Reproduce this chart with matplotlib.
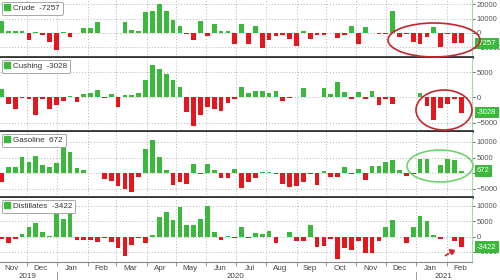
import matplotlib
matplotlib.use('Agg')
import matplotlib.pyplot as plt
import matplotlib.dates as mdates
import matplotlib.patches as mpatches
import matplotlib.transforms as mtrans
import pandas as pd

plt.rcParams['font.family'] = ['Liberation Sans', 'DejaVu Sans']

dates = pd.date_range('2019-11-05', periods=68, freq='7D')

crude = [8100, 1600, 1200, 1200, -5100, 500, -1400, -6300, -12100, 700,
         -2800, 300, 3300, 3300, 7700, 300, 300, 300, 7900, 1900,
         1400, 14400, 15600, 20200, 15100, 9300, 4700, -600, -5100, 8400,
         -1900, 6000, 1200, 1200, -7400, 6000, -7400, 4700, -10500, -4700,
         -1900, -1500, -4200, -9400, 1500, -4200, -1500, -1500, 300, -3500,
         -1500, 4500, -7700, 4200, 300, -500, -500, 15600, -2800, -500,
         -6300, -7700, -3000, 4200, -10000, -500, -7000, -7257]
cushing = [1650, -1300, -2400, -100, -400, -3500, -300, -2400, -1500, -800,
           200, -1000, 650, 850, 1500, -200, 700, -2000, 500, 500,
           800, 3400, 6300, 5600, 4700, 3500, 2000, -3000, -5650, -3400,
           -1850, -2300, -2650, -1100, -300, 2100, 850, 1300, 1300, 800,
           1300, -650, -150, 0, 1900, 50, 0, 1900, 650, 3000,
           1000, -350, 1000, -400, 1200, -1600, -350, -1300, 100, 50,
           50, 800, -1800, -4550, -2150, -1350, -400, -3028]
gasoline = [-2800, 1800, 1800, 5300, 3400, 5500, 2700, 2000, 3300, 9200,
            6800, 1700, 1100, 0, -100, -1800, -2500, -4200, -5200, -6100,
            -1300, 7600, 10600, 5100, 1100, -3700, -3000, -3400, 2900, -400,
            2900, 900, -1500, -1700, 1200, -4700, -3000, -1700, 400, 400,
            -400, -3400, -4500, -4200, -2800, -200, -3700, 650, -1400, -1400,
            2000, -300, 1400, -2300, 2400, 2400, 3700, 4200, 900, -900,
            -400, 4500, 4500, 100, 2600, 4500, 4200, 672]
distillates = [-900, -2200, -800, 900, 3300, 4300, 1600, 100, 8200, 5700,
               8500, -1000, -1100, -1100, -1600, -550, -1800, -3800, -6300, -2700,
               -350, -2000, 550, 6400, 8000, 5300, 9600, 3700, 3900, 5700,
               10000, 1600, -1100, 200, -400, 3000, -500, 1100, 800, 1900,
               -2000, 0, 1400, -1400, -1400, 3700, -3300, -3000, -900, -7200,
               -3700, -4200, -1400, -5200, -5200, -1300, 3300, 5500, 0, -2000,
               3100, 6700, 5200, 500, -700, 0, -1400, -3422]

names = ["Crude", "Cushing", "Gasoline", "Distillates"]
series = [crude, cushing, gasoline, distillates]
yticks = [[-10000, 0, 10000, 20000], [-5000, 0, 5000],
          [-5000, 0, 5000, 10000], [-5000, 0, 5000, 10000]]
ylims = [(-16800, 23000), (-6660, 7770), (-7700, 13200), (-8270, 12600)]
years = [("2019", "2019-12-02"), ("2020", "2020-07-01"), ("2021", "2021-01-29")]

W, H = 500, 280
GREEN = '#3cb83c'
RED = '#e5161c'
panels_px = [(0, 57), (58, 131), (132, 197), (198, 262)]
right_px = 472
xl = (pd.Timestamp('2019-11-03 12:00'), pd.Timestamp('2021-02-27'))

fig = plt.figure(figsize=(5, 2.8), dpi=100)
axes = []
for i, (name, vals) in enumerate(zip(names, series)):
    top, bot = panels_px[i]
    ax = fig.add_axes([0, 1 - bot / H, right_px / W, (bot - top) / H])
    axes.append(ax)
    colors = [GREEN if v >= 0 else RED for v in vals]
    ax.bar(dates, vals, width=4.8, color=colors, zorder=2)
    ax.set_xlim(xl)
    ax.set_ylim(ylims[i])
    ax.yaxis.tick_right()
    ax.set_yticks(yticks[i])
    ax.tick_params(axis='y', labelsize=5.5, length=2.5, colors='#555', pad=1,
                   width=0.6)
    ax.grid(axis='y', linestyle=(0, (1, 2)), color='#b5b5b5', lw=0.7, zorder=0)
    ax.xaxis.set_major_locator(mdates.MonthLocator())
    ax.grid(axis='x', which='major', linestyle=(0, (1, 2)), color='#b5b5b5',
            lw=0.7, zorder=0)
    for s in ['left', 'top']:
        ax.spines[s].set_visible(False)
    ax.spines['right'].set_color('#a6d9a6')
    ax.spines['right'].set_linewidth(0.8)
    if i < 3:
        ax.spines['bottom'].set_color('#333333')
        ax.spines['bottom'].set_linewidth(2)
        ax.tick_params(axis='x', which='both', length=0, labelbottom=False)
    else:
        ax.spines['bottom'].set_color('#888888')
        ax.spines['bottom'].set_linewidth(0.8)
        ax.xaxis.set_minor_locator(mdates.MonthLocator(bymonthday=15))
        ax.xaxis.set_minor_formatter(mdates.DateFormatter('%b'))
        ax.xaxis.set_major_formatter(plt.NullFormatter())
        ax.tick_params(axis='x', which='major', length=3, color='#888', width=0.6)
        ax.tick_params(axis='x', which='minor', length=0, labelsize=5.8,
                       colors='#444', pad=2.5)
        trans = mtrans.blended_transform_factory(ax.transData, ax.transAxes)
        for lab, d in years:
            ax.text(pd.Timestamp(d), -0.225, lab, transform=trans, ha='center',
                    va='center', fontsize=5.8, color='#444')
        for d in ["2020-01-01", "2021-01-01"]:
            ax.plot([pd.Timestamp(d)] * 2, [-0.16, -0.29], transform=trans,
                    color='#888', lw=0.6, clip_on=False)
    last = vals[-1]
    leg = ax.legend(handles=[mpatches.Patch(color=GREEN, label=f"{name}  {last}")],
                    loc='upper left', fontsize=5.8, handlelength=0.7,
                    handleheight=0.7, handletextpad=0.4, borderpad=0.35,
                    borderaxespad=0.2, frameon=True, fancybox=True,
                    edgecolor='#999999', framealpha=1)
    leg.get_frame().set_linewidth(0.6)
    for t in leg.get_texts():
        t.set_color('#333')
    ax.annotate(f"{last}", xy=(1, last), xycoords=('axes fraction', 'data'),
                xytext=(5, 0), textcoords='offset pixels', va='center', ha='left',
                fontsize=5.5, color='white',
                bbox=dict(boxstyle='square,pad=0.3', fc=GREEN, ec='none'),
                annotation_clip=False, zorder=6)


def fx(x):
    return x / W


def fy(y):
    return 1 - y / H


# annotations
fig.add_artist(mpatches.Ellipse((fx(434), fy(40)), 92 / W, 34 / H,
                                transform=fig.transFigure, fill=False,
                                ec='#c4262c', lw=1.2))
fig.add_artist(mpatches.Ellipse((fx(444), fy(110)), 56 / W, 40 / H,
                                transform=fig.transFigure, fill=False,
                                ec='#c4262c', lw=1.2))
fig.add_artist(mpatches.Ellipse((fx(440), fy(166)), 66 / W, 32 / H,
                                transform=fig.transFigure, fill=False,
                                ec='#6fd46f', lw=1.2))
fig.add_artist(mpatches.FancyArrowPatch((fx(443), fy(257)), (fx(458), fy(248)),
                                        transform=fig.transFigure,
                                        arrowstyle='-|>,head_length=3,head_width=2',
                                        color='#d0262c', lw=1.2,
                                        linestyle=(0, (2, 1.2))))

fig.savefig('out.png', dpi=100)
